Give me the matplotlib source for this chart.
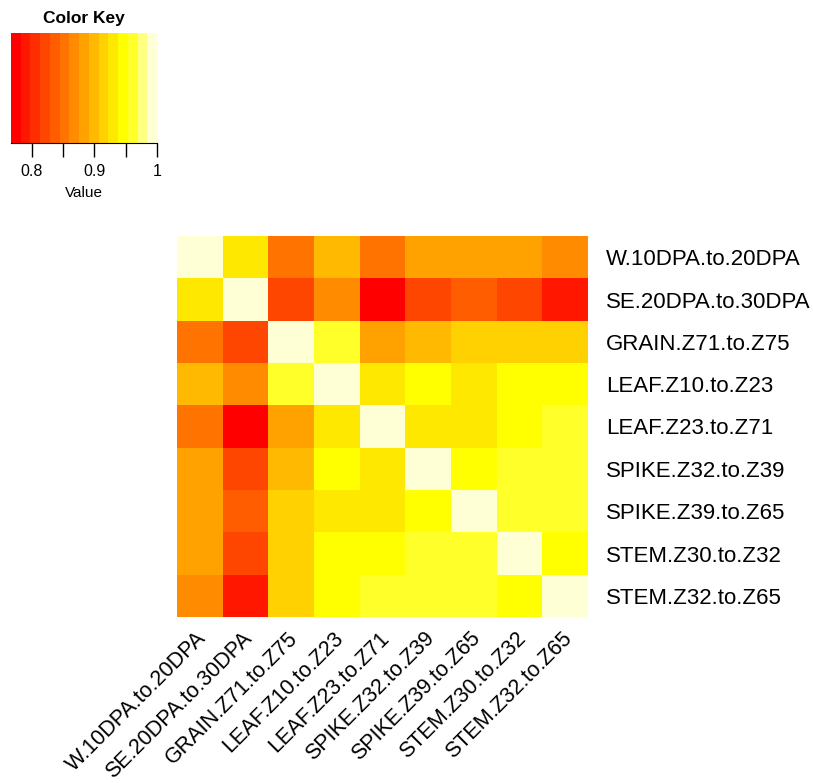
import numpy as np
import matplotlib
matplotlib.use("Agg")
import matplotlib.pyplot as plt
import matplotlib.transforms as mtrans
from matplotlib.colors import ListedColormap, BoundaryNorm, hsv_to_rgb

plt.rcParams['font.family'] = ['Liberation Sans', 'DejaVu Sans']

labels = ["W.10DPA.to.20DPA", "SE.20DPA.to.30DPA", "GRAIN.Z71.to.Z75",
          "LEAF.Z10.to.Z23", "LEAF.Z23.to.Z71", "SPIKE.Z32.to.Z39",
          "SPIKE.Z39.to.Z65", "STEM.Z30.to.Z32", "STEM.Z32.to.Z65"]

corr = np.array([
    [1.000, 0.930, 0.852, 0.899, 0.852, 0.884, 0.884, 0.884, 0.868],
    [0.930, 1.000, 0.821, 0.868, 0.767, 0.821, 0.837, 0.821, 0.790],
    [0.852, 0.821, 1.000, 0.961, 0.884, 0.899, 0.915, 0.915, 0.915],
    [0.899, 0.868, 0.961, 1.000, 0.930, 0.946, 0.930, 0.946, 0.946],
    [0.852, 0.767, 0.884, 0.930, 1.000, 0.930, 0.930, 0.946, 0.961],
    [0.884, 0.821, 0.899, 0.946, 0.930, 1.000, 0.946, 0.961, 0.961],
    [0.884, 0.837, 0.915, 0.930, 0.930, 0.946, 1.000, 0.961, 0.961],
    [0.884, 0.821, 0.915, 0.946, 0.946, 0.961, 0.961, 1.000, 0.946],
    [0.868, 0.790, 0.915, 0.946, 0.961, 0.961, 0.961, 0.946, 1.000],
])

key_ticks = [0.8, 0.85, 0.9, 0.95, 1.0]
key_ticklabels = ["0.8", "", "0.9", "", "1"]

# R heat.colors(15)
def heat_colors(n):
    j = n // 4
    i = n - j
    cols = []
    for h in np.linspace(0, 1/6, i):
        cols.append(hsv_to_rgb([h, 1, 1]))
    if j > 0:
        for s in np.linspace(1 - 1/(2*j), 1/(2*j), j):
            cols.append(hsv_to_rgb([1/6, s, 1]))
    return cols

ncol = 15
cmap = ListedColormap(heat_colors(ncol))
vmin, vmax = corr.min(), corr.max()
breaks = np.linspace(vmin, vmax, ncol + 1)
norm = BoundaryNorm(breaks, ncol)

W, H = 813, 783
fig = plt.figure(figsize=(W/100, H/100), dpi=100)

# heatmap
ax = fig.add_axes([177/W, 1-617/H, 411/W, 381/H])
n = len(labels)
ax.pcolormesh(np.arange(n+1), np.arange(n+1), corr, cmap=cmap, norm=norm)
ax.set_xlim(0, n)
ax.set_ylim(n, 0)
for s in ax.spines.values():
    s.set_visible(False)
ax.set_xticks(np.arange(n) + 0.5)
ax.set_yticks(np.arange(n) + 0.5)
ax.set_xticklabels(labels, rotation=45, ha='right', va='top',
                   rotation_mode='anchor', fontsize=15.5)
ax.set_yticklabels(labels, fontsize=16)
ax.yaxis.tick_right()
ax.tick_params(axis='y', length=0, pad=13)
ax.tick_params(axis='x', length=0, pad=8)
off = mtrans.ScaledTranslation(-4/100, 0, fig.dpi_scale_trans)
for lab in ax.get_xticklabels():
    lab.set_transform(lab.get_transform() + off)

# color key
kax = fig.add_axes([11/W, 1-143/H, 146/W, 110/H])
kax.pcolormesh(breaks, [0, 1], np.array([(breaks[:-1] + breaks[1:]) / 2]),
               cmap=cmap, norm=norm)
kax.set_xlim(vmin, vmax)
kax.set_ylim(0, 1)
kax.set_yticks([])
for k in ['top', 'left', 'right']:
    kax.spines[k].set_visible(False)
kax.set_xticks(key_ticks)
kax.set_xticklabels(key_ticklabels, fontsize=11.5)
kax.tick_params(axis='x', length=10, width=1, pad=5)
kax.set_xlabel("Value", fontsize=11, labelpad=5)
kax.set_title("Color Key", fontsize=12.5, fontweight='bold', pad=7)

fig.savefig("out.png", dpi=100)
